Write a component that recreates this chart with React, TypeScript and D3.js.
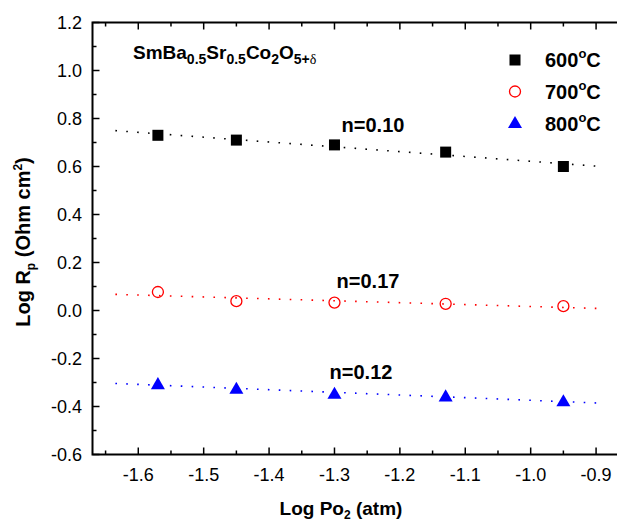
import React from "react";
import * as d3 from "d3";

const logPO2 = [-1.57, -1.45, -1.3, -1.13, -0.95];
const rp600 = [0.73, 0.71, 0.69, 0.66, 0.6];
const rp700 = [0.077, 0.039, 0.033, 0.028, 0.018];
const rp800 = [-0.307, -0.326, -0.347, -0.358, -0.378];
const seriesNames = ["600", "700", "800"];
const slopeLabels = ["n=0.10", "n=0.17", "n=0.12"];
const xTicks = [-1.6, -1.5, -1.4, -1.3, -1.2, -1.1, -1.0, -0.9];
const yTicks = [1.2, 1.0, 0.8, 0.6, 0.4, 0.2, 0.0, -0.2, -0.4, -0.6];
const fitRange = [-1.635, -0.89];

const W = 617, H = 523;
const left = 92.5, top = 22.5, bottom = 454.5;
const x = d3.scaleLinear().domain([-1.67, -0.865]).range([left, left + 0.805 * 654]);
const y = d3.scaleLinear().domain([-0.6, 1.2]).range([bottom, top]);

function fit(xs: number[], ys: number[]) {
  const mx = d3.mean(xs)!, my = d3.mean(ys)!;
  let sxy = 0, sxx = 0;
  xs.forEach((v, i) => { sxy += (v - mx) * (ys[i] - my); sxx += (v - mx) ** 2; });
  const b = sxy / sxx;
  return (v: number) => my + b * (v - mx);
}

const colors = ["#000000", "#ff0000", "#0000ff"];
const data = [rp600, rp700, rp800];
const labelPos = [[373, 0.745], [368, 0.092], [361, -0.285]];

function Marker({ kind, cx, cy, color }: { kind: number; cx: number; cy: number; color: string }) {
  if (kind === 0) return <rect x={cx - 5.5} y={cy - 5.5} width={11} height={11} fill={color} />;
  if (kind === 1) return <circle cx={cx} cy={cy} r={5.5} fill="none" stroke={color} strokeWidth={1.3} />;
  const tri = d3.symbol(d3.symbolTriangle, 85)()!;
  return <path d={tri} transform={`translate(${cx},${cy + 1})`} fill={color} />;
}

export default function App() {
  const minor = d3.range(-1.65, -0.86, 0.05);
  const yMinor = d3.range(-0.6, 1.21, 0.1);
  const line = d3.line<number>().x((d) => x(d[0])).y((d) => y(d[1]));
  return (
    <svg width={W} height={H} style={{ position: "absolute", left: 0, top: 0, background: "#fff" }}
      fontFamily="Arial, 'Liberation Sans', sans-serif">
      <rect x={left} y={top} width={x.range()[1] - left} height={bottom - top} fill="none" stroke="#000" strokeWidth={2} />
      {minor.map((v, i) => {
        const isMajor = Math.abs(v * 10 - Math.round(v * 10)) < 1e-6;
        const len = isMajor ? 7 : 4;
        return (
          <g key={i}>
            <line x1={x(v)} x2={x(v)} y1={bottom} y2={bottom - len} stroke="#000" strokeWidth={1.5} />
            <line x1={x(v)} x2={x(v)} y1={top} y2={top + len} stroke="#000" strokeWidth={1.5} />
          </g>
        );
      })}
      {yMinor.map((v, i) => {
        const isMajor = Math.abs(v * 5 - Math.round(v * 5)) < 1e-6;
        const len = isMajor ? 7 : 4;
        return <line key={i} x1={left} x2={left + len} y1={y(v)} y2={y(v)} stroke="#000" strokeWidth={1.5} />;
      })}
      {xTicks.map((v) => (
        <text key={v} x={x(v)} y={481} textAnchor="middle" fontSize={18}>{v.toFixed(1)}</text>
      ))}
      {yTicks.map((v) => (
        <text key={v} x={82} y={y(v) + 6.5} textAnchor="end" fontSize={18}>{v.toFixed(1)}</text>
      ))}
      {data.map((ys, k) => {
        const f = fit(logPO2, ys);
        const pts = fitRange.map((v) => [v, f(v)] as [number, number]);
        return <path key={k} d={line(pts as any)!} stroke={colors[k]} strokeWidth={1.6} strokeDasharray="1.6 9.3" fill="none" />;
      })}
      {data.map((ys, k) => ys.map((v, i) => (
        <Marker key={`${k}-${i}`} kind={k} cx={x(logPO2[i])} cy={y(v)} color={colors[k]} />
      )))}
      {slopeLabels.map((s, k) => (
        <text key={s} x={labelPos[k][0]} y={y(labelPos[k][1])} textAnchor="middle" fontSize={20} fontWeight="bold">{s}</text>
      ))}
      <text x={133} y={59} fontSize={19} fontWeight="bold">
        SmBa<tspan fontSize={14} dy={5}>0.5</tspan>
        <tspan dy={-5}>Sr</tspan><tspan fontSize={14} dy={5}>0.5</tspan>
        <tspan dy={-5}>Co</tspan><tspan fontSize={14} dy={5}>2</tspan>
        <tspan dy={-5}>O</tspan><tspan fontSize={14} dy={5}>5+</tspan>
        <tspan fontSize={14} fontWeight="normal" fontFamily="'Times New Roman', 'Liberation Serif', serif">δ</tspan>
      </text>
      {seriesNames.map((n, k) => (
        <g key={n}>
          <Marker kind={k} cx={515} cy={60 + k * 31.5} color={colors[k]} />
          <text x={545} y={67 + k * 32} fontSize={20} fontWeight="bold">
            {n}<tspan fontSize={13} dy={-9}>o</tspan><tspan dy={9}>C</tspan>
          </text>
        </g>
      ))}
      <text x={341} y={515} textAnchor="middle" fontSize={19} fontWeight="bold">
        Log Po<tspan fontSize={12} dy={4}>2</tspan><tspan dy={-4}> (atm)</tspan>
      </text>
      <text transform="translate(30,242) rotate(-90)" textAnchor="middle" fontSize={20} fontWeight="bold">
        Log R<tspan fontSize={12} dy={5}>p</tspan><tspan dy={-5}> (Ohm cm</tspan><tspan fontSize={12} dy={-8}>2</tspan><tspan dy={8}>)</tspan>
      </text>
    </svg>
  );
}
